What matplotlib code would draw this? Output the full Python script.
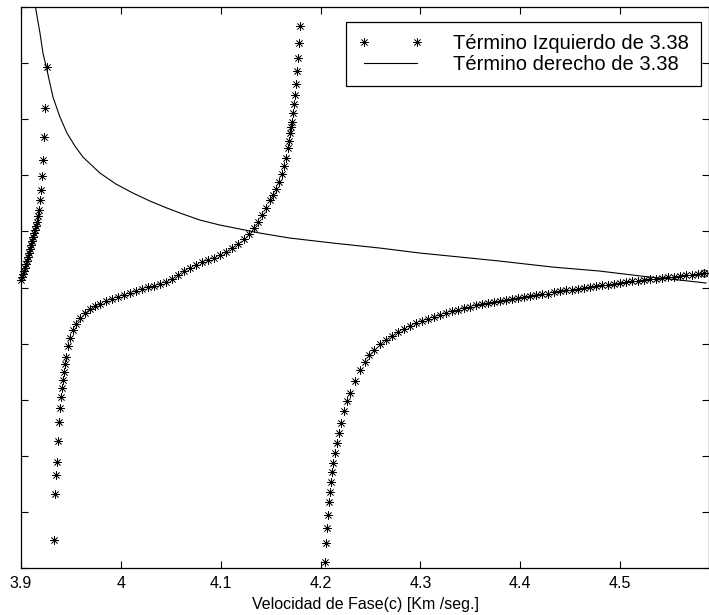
import matplotlib
matplotlib.use('Agg')
import matplotlib.pyplot as plt

plt.rcParams['font.family'] = ['Liberation Sans', 'DejaVu Sans']

# ---- Término izquierdo de 3.38 (asterisks), three branches ----
c_izq_1 = [3.900, 3.901, 3.902, 3.903, 3.904, 3.905, 3.906, 3.907, 3.908, 3.909,
           3.910, 3.911, 3.912, 3.913, 3.914, 3.915, 3.916, 3.917, 3.918, 3.919,
           3.920, 3.921, 3.922, 3.923, 3.924, 3.926]
izq_1 = [0.134, 0.187, 0.241, 0.294, 0.348, 0.419, 0.472, 0.544, 0.615, 0.686,
         0.758, 0.829, 0.900, 0.971, 1.025, 1.096, 1.168, 1.275, 1.381, 1.560,
         1.738, 1.988, 2.273, 2.683, 3.200, 3.930]

c_izq_2 = [3.933, 3.934, 3.935, 3.936, 3.937, 3.938, 3.939, 3.940, 3.941, 3.942,
           3.943, 3.944, 3.945, 3.947, 3.949, 3.952, 3.955, 3.959, 3.964, 3.969,
           3.974, 3.979, 3.985, 3.991, 3.997, 4.003, 4.009, 4.015, 4.021, 4.027,
           4.033, 4.039, 4.045, 4.051, 4.057, 4.063, 4.069, 4.075, 4.081, 4.087,
           4.093, 4.099, 4.105, 4.111, 4.117, 4.123, 4.128, 4.133, 4.137, 4.141,
           4.145, 4.149, 4.152, 4.155, 4.158, 4.161, 4.163, 4.165, 4.167, 4.168,
           4.169, 4.170, 4.171, 4.172, 4.173, 4.174, 4.175, 4.176, 4.177, 4.178,
           4.179]
izq_2 = [-4.501, -3.681, -3.342, -3.110, -2.736, -2.397, -2.148, -1.952, -1.791, -1.649,
         -1.506, -1.364, -1.239, -1.043, -0.900, -0.758, -0.651, -0.544, -0.455, -0.383,
         -0.330, -0.294, -0.241, -0.205, -0.169, -0.134, -0.098, -0.062, -0.027, 0.009,
         0.027, 0.062, 0.098, 0.152, 0.223, 0.294, 0.348, 0.401, 0.455, 0.490,
         0.526, 0.579, 0.633, 0.704, 0.775, 0.865, 0.954, 1.061, 1.168, 1.292,
         1.417, 1.560, 1.649, 1.756, 1.881, 2.023, 2.166, 2.308, 2.487, 2.611,
         2.754, 2.861, 2.950, 3.110, 3.271, 3.431, 3.627, 3.859, 4.091, 4.358,
         4.661]

c_izq_3 = [4.204, 4.205, 4.206, 4.207, 4.208, 4.209, 4.210, 4.211, 4.212, 4.214,
           4.216, 4.218, 4.220, 4.223, 4.226, 4.229, 4.234, 4.239, 4.244, 4.249,
           4.254, 4.260, 4.266, 4.272, 4.278, 4.284, 4.290, 4.296, 4.302, 4.308,
           4.314, 4.320, 4.326, 4.332, 4.338, 4.344, 4.350, 4.356, 4.362, 4.368,
           4.374, 4.380, 4.386, 4.392, 4.398, 4.404, 4.410, 4.416, 4.422, 4.428,
           4.434, 4.440, 4.446, 4.452, 4.458, 4.464, 4.470, 4.476, 4.482, 4.488,
           4.494, 4.500, 4.506, 4.512, 4.518, 4.524, 4.530, 4.536, 4.542, 4.548,
           4.554, 4.560, 4.566, 4.572, 4.578, 4.584]
izq_3 = [-4.893, -4.554, -4.287, -4.055, -3.823, -3.645, -3.467, -3.289, -3.128, -2.950,
         -2.772, -2.594, -2.415, -2.201, -2.023, -1.881, -1.667, -1.471, -1.328, -1.203,
         -1.114, -1.007, -0.936, -0.865, -0.793, -0.740, -0.686, -0.633, -0.597, -0.561,
         -0.526, -0.490, -0.455, -0.419, -0.401, -0.365, -0.348, -0.312, -0.294, -0.276,
         -0.258, -0.241, -0.223, -0.205, -0.187, -0.169, -0.152, -0.134, -0.116, -0.107,
         -0.089, -0.071, -0.053, -0.045, -0.027, -0.009, 0.009, 0.027, 0.045, 0.053,
         0.062, 0.080, 0.098, 0.107, 0.116, 0.134, 0.152, 0.160, 0.169, 0.187,
         0.196, 0.205, 0.214, 0.223, 0.241, 0.258]

# ---- Término derecho de 3.38 (solid line) ----
c_der = [3.913, 3.915, 3.919, 3.922, 3.926, 3.932, 3.939, 3.946, 3.954, 3.962,
         3.979, 3.995, 4.012, 4.029, 4.046, 4.062, 4.079, 4.099, 4.119, 4.139,
         4.169, 4.212, 4.259, 4.299, 4.339, 4.379, 4.432, 4.479, 4.529, 4.559,
         4.586]
der = [5.214, 4.946, 4.536, 4.180, 3.877, 3.396, 3.039, 2.754, 2.522, 2.326,
       2.041, 1.845, 1.684, 1.542, 1.417, 1.310, 1.203, 1.114, 1.043, 0.971,
       0.882, 0.793, 0.704, 0.615, 0.544, 0.472, 0.365, 0.294, 0.187, 0.134,
       0.080]

xticks = [3.9, 4.0, 4.1, 4.2, 4.3, 4.4, 4.5]
xticklabels = ['3.9', '4', '4.1', '4.2', '4.3', '4.4', '4.5']
yticks = [-5, -4, -3, -2, -1, 0, 1, 2, 3, 4, 5]

label_izq = 'Término Izquierdo de 3.38'
label_der = 'Término derecho de 3.38'
xlabel = 'Velocidad de Fase(c) [Km /seg.]'

W, H = 709, 615
fig = plt.figure(figsize=(W / 100, H / 100), dpi=100)
ax = fig.add_axes([21 / W, 1 - 568 / H, 688 / W, 561 / H])

ast = (8, 2, 0)
kw = dict(linestyle='none', marker=ast, markersize=6, markeredgewidth=0.5,
          color='black', clip_on=False)
h1, = ax.plot(c_izq_1, izq_1, label=label_izq, **kw)
ax.plot(c_izq_2, izq_2, **kw)
ax.plot(c_izq_3, izq_3, **kw)
h2, = ax.plot(c_der, der, color='black', linewidth=0.8, label=label_der)
ax.plot(c_izq_3[-1:], izq_3[-1:], marker='o', markersize=5, mfc='none',
        mec='black', mew=0.7, linestyle='none', clip_on=False)

ax.set_xlim(3.9, 4.589)
ax.set_ylim(-5, 5)
ax.set_xticks(xticks)
ax.set_xticklabels(xticklabels)
ax.set_yticks(yticks)
ax.set_yticklabels([])
ax.tick_params(direction='in', top=True, right=True, length=5, width=0.8,
               labelsize=11.5, pad=6)
for s in ax.spines.values():
    s.set_linewidth(0.9)
ax.set_xlabel(xlabel, fontsize=11.5, labelpad=4)

leg = ax.legend(handles=[h1, h2], loc='upper right',
                bbox_to_anchor=(701 / W, 1 - 22 / H), bbox_transform=fig.transFigure,
                borderaxespad=0, fontsize=14.5, numpoints=2, handlelength=3.2,
                handletextpad=1.5, borderpad=0.6, labelspacing=0.1,
                fancybox=False, framealpha=1, edgecolor='black')
leg.get_frame().set_linewidth(0.9)

fig.savefig('out.png', dpi=100)
